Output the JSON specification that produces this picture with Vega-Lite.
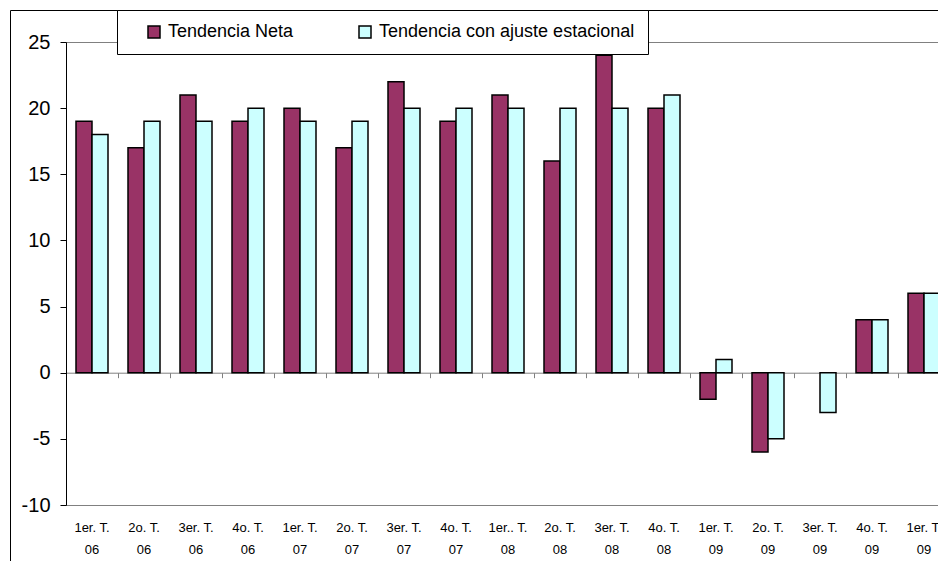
{
  "$schema": "https://vega.github.io/schema/vega-lite/v6.json",
  "width": 884,
  "height": 463,
  "autosize": {"type": "none"},
  "padding": {"left": 66, "top": 42, "right": 0, "bottom": 56},
  "background": "white",
  "config": {
    "font": "Liberation Sans",
    "view": {"stroke": "#808080", "strokeWidth": 1},
    "axis": {"labelColor": "#000", "grid": false}
  },
  "data": {
    "values": [
      {"cat": "1er. T.|06", "serie": "Tendencia Neta", "valor": 19},
      {"cat": "1er. T.|06", "serie": "Tendencia con ajuste estacional", "valor": 18},
      {"cat": "2o. T.|06", "serie": "Tendencia Neta", "valor": 17},
      {"cat": "2o. T.|06", "serie": "Tendencia con ajuste estacional", "valor": 19},
      {"cat": "3er. T.|06", "serie": "Tendencia Neta", "valor": 21},
      {"cat": "3er. T.|06", "serie": "Tendencia con ajuste estacional", "valor": 19},
      {"cat": "4o. T.|06", "serie": "Tendencia Neta", "valor": 19},
      {"cat": "4o. T.|06", "serie": "Tendencia con ajuste estacional", "valor": 20},
      {"cat": "1er. T.|07", "serie": "Tendencia Neta", "valor": 20},
      {"cat": "1er. T.|07", "serie": "Tendencia con ajuste estacional", "valor": 19},
      {"cat": "2o. T.|07", "serie": "Tendencia Neta", "valor": 17},
      {"cat": "2o. T.|07", "serie": "Tendencia con ajuste estacional", "valor": 19},
      {"cat": "3er. T.|07", "serie": "Tendencia Neta", "valor": 22},
      {"cat": "3er. T.|07", "serie": "Tendencia con ajuste estacional", "valor": 20},
      {"cat": "4o. T.|07", "serie": "Tendencia Neta", "valor": 19},
      {"cat": "4o. T.|07", "serie": "Tendencia con ajuste estacional", "valor": 20},
      {"cat": "1er.. T.|08", "serie": "Tendencia Neta", "valor": 21},
      {"cat": "1er.. T.|08", "serie": "Tendencia con ajuste estacional", "valor": 20},
      {"cat": "2o. T.|08", "serie": "Tendencia Neta", "valor": 16},
      {"cat": "2o. T.|08", "serie": "Tendencia con ajuste estacional", "valor": 20},
      {"cat": "3er. T.|08", "serie": "Tendencia Neta", "valor": 24},
      {"cat": "3er. T.|08", "serie": "Tendencia con ajuste estacional", "valor": 20},
      {"cat": "4o. T.|08", "serie": "Tendencia Neta", "valor": 20},
      {"cat": "4o. T.|08", "serie": "Tendencia con ajuste estacional", "valor": 21},
      {"cat": "1er. T.|09", "serie": "Tendencia Neta", "valor": -2},
      {"cat": "1er. T.|09", "serie": "Tendencia con ajuste estacional", "valor": 1},
      {"cat": "2o. T.|09", "serie": "Tendencia Neta", "valor": -6},
      {"cat": "2o. T.|09", "serie": "Tendencia con ajuste estacional", "valor": -5},
      {"cat": "3er. T.|09", "serie": "Tendencia Neta", "valor": null},
      {"cat": "3er. T.|09", "serie": "Tendencia con ajuste estacional", "valor": -3},
      {"cat": "4o. T.|09", "serie": "Tendencia Neta", "valor": 4},
      {"cat": "4o. T.|09", "serie": "Tendencia con ajuste estacional", "valor": 4},
      {"cat": "1er. T.|09 ", "serie": "Tendencia Neta", "valor": 6},
      {"cat": "1er. T.|09 ", "serie": "Tendencia con ajuste estacional", "valor": 6}
    ]
  },
  "layer": [
    {
      "mark": {"type": "point", "opacity": 0},
      "encoding": {
        "x": {
          "field": "valor", "type": "quantitative",
          "scale": {"range": [-56, 872], "zero": false},
          "axis": {"orient": "top", "offset": 32, "domain": true, "domainColor": "#000", "domainWidth": 1, "labels": false, "ticks": false, "grid": false, "title": null}
        },
        "y": {
          "field": "valor", "type": "quantitative",
          "scale": {"range": [519, -32], "zero": false},
          "axis": {"orient": "right", "offset": -940, "domain": true, "domainColor": "#000", "domainWidth": 1, "labels": false, "ticks": false, "grid": false, "title": null}
        }
      }
    },
    {
      "mark": {"type": "bar", "stroke": "#000", "strokeWidth": 1.5},
      "encoding": {
        "x": {
          "field": "cat", "type": "nominal", "sort": null,
          "scale": {"paddingInner": 0, "paddingOuter": 0},
          "axis": {
            "orient": "bottom", "domain": false, "ticks": false, "tickSize": 0,
            "labelAngle": 0, "labelAlign": "center", "labelBaseline": "top",
            "labelFontSize": 13, "labelPadding": 16, "labelLineHeight": 22,
            "labelExpr": "split(datum.label, '|')", "title": null
          }
        },
        "xOffset": {
          "field": "serie", "type": "nominal",
          "sort": ["Tendencia Neta", "Tendencia con ajuste estacional"],
          "scale": {"paddingInner": 0, "paddingOuter": 0.625}
        },
        "y": {
          "field": "valor", "type": "quantitative",
          "scale": {"domain": [-10, 25], "nice": false, "zero": false},
          "axis": {
            "orient": "left",
            "values": [-10, -5, 0, 5, 10, 15, 20, 25],
            "labelExpr": "datum.value < 0 ? '-' + abs(datum.value) : '' + datum.value",
            "domain": true, "domainColor": "#000", "domainWidth": 1,
            "ticks": true, "tickSize": 6, "tickColor": "#000",
            "labelFontSize": 20, "labelPadding": 10, "grid": false, "title": null
          }
        },
        "color": {
          "field": "serie", "type": "nominal",
          "scale": {"domain": ["Tendencia Neta", "Tendencia con ajuste estacional"], "range": ["#993366", "#CCFFFF"]},
          "legend": {
            "orient": "none", "legendX": 51, "legendY": -32, "direction": "horizontal",
            "title": " ", "titleOrient": "left", "titleFontSize": 18, "titlePadding": 15,
            "padding": 13, "fillColor": "#fff", "strokeColor": "#000",
            "symbolType": "square", "symbolSize": 144, "symbolStrokeColor": "#000", "symbolStrokeWidth": 1.5,
            "symbolOpacity": 1,
            "labelFontSize": 18, "labelColor": "#000", "labelOffset": 5, "columnPadding": 62, "labelLimit": 400
          }
        }
      }
    },
    {
      "mark": {"type": "point", "opacity": 0},
      "encoding": {
        "x": {
          "field": "cat", "type": "nominal", "sort": null,
          "axis": {
            "orient": "bottom", "offset": -132.3, "domain": true, "domainColor": "#808080", "domainWidth": 1,
            "ticks": true, "tickBand": "extent", "tickSize": 5, "tickColor": "#808080",
            "labels": false, "title": null
          }
        }
      }
    }
  ],
  "resolve": {"scale": {"y": "independent"}, "axis": {"x": "independent", "y": "independent"}}
}
